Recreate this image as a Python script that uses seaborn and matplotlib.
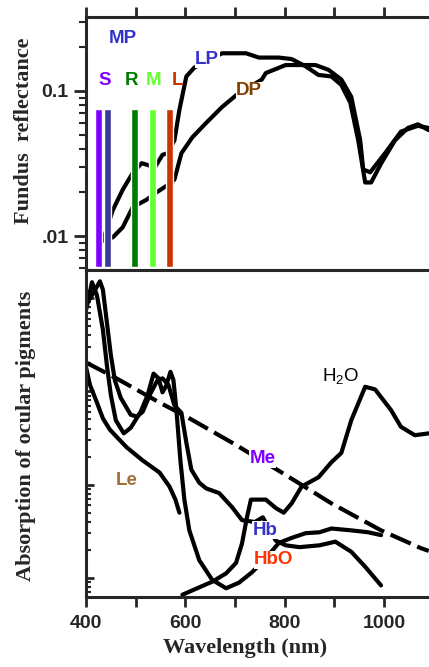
import matplotlib
matplotlib.use('Agg')
import matplotlib.pyplot as plt
from matplotlib.ticker import NullFormatter, FixedLocator
import seaborn as sns

# ---- painel superior: refletância do fundo ----
lp_wl = [434, 454, 474, 494, 512, 524, 538, 554, 564, 578, 588, 602, 618, 628, 674, 722, 748,
         788, 814, 842, 868, 894, 914, 932, 948, 962, 974, 994, 1022, 1048, 1068, 1090]
lp_refl = [0.0093, 0.0151, 0.0209, 0.0272, 0.0318, 0.0309, 0.0295, 0.0363, 0.0372, 0.0457,
           0.0741, 0.126, 0.145, 0.151, 0.182, 0.182, 0.170, 0.170, 0.166, 0.148, 0.129,
           0.126, 0.110, 0.0832, 0.0457, 0.0234, 0.0234, 0.0316, 0.0457, 0.0556, 0.0589, 0.0537]

dp_wl = [434, 454, 474, 494, 522, 542, 564, 578, 592, 614, 642, 674, 702, 754, 762, 802, 842,
         862, 888, 914, 934, 952, 958, 972, 1002, 1034, 1068, 1090]
dp_refl = [0.0093, 0.0098, 0.0115, 0.0158, 0.0178, 0.0200, 0.0224, 0.0245, 0.0372, 0.0479,
           0.0603, 0.0776, 0.0933, 0.120, 0.133, 0.151, 0.151, 0.151, 0.140, 0.120, 0.0912,
           0.0457, 0.0288, 0.0275, 0.0372, 0.0525, 0.0575, 0.0556]

# barras dos filtros (S, MP, R, M, L)
bar_wl = [426, 443, 498, 533, 569]
bar_colors = ['#7f00ff', '#3a3a9a', '#007a00', '#66ff33', '#cc3300']
bar_top = 0.075
bar_bottom = 0.0061

top_labels = ['MP', 'S', 'R', 'M', 'L', 'LP', 'DP']
top_label_wl = [474, 438, 492, 536, 584, 644, 728]
top_label_val = [0.229, 0.119, 0.119, 0.119, 0.119, 0.166, 0.100]
top_label_colors = ['#3333cc', '#7f00ff', '#007a00', '#66ff33', '#cc3300', '#3333cc', '#804000']

# ---- painel inferior: absorção dos pigmentos ----
hbo_wl = [400, 412, 422, 434, 442, 450, 460, 476, 490, 510, 524, 536, 546, 554, 562, 570, 576,
          582, 590, 598, 608, 628, 654, 682, 708, 734, 760, 788, 814, 842, 870, 894, 934, 968, 994]
hbo_abs = [741, 1479, 1072, 457, 191, 91.2, 49.0, 35.5, 40.7, 60.3, 91.2, 155, 138, 97.7, 117,
           162, 132, 63.1, 18.2, 6.92, 3.24, 1.55, 0.955, 0.776, 0.891, 1.15, 1.58, 2.37, 2.69,
           3.02, 3.09, 3.39, 3.24, 3.09, 2.88]

hb_wl = [400, 412, 428, 434, 442, 450, 458, 470, 490, 502, 514, 530, 544, 554, 566, 578, 592,
         602, 612, 628, 642, 668, 694, 714, 740, 756, 782, 802, 830, 870, 902, 934, 962, 994]
hb_abs = [851, 1072, 1514, 1230, 550, 245, 132, 85.1, 56.2, 53.7, 60.3, 95.5, 132, 138, 117,
          70.8, 58.9, 28.2, 14.5, 10.5, 9.12, 8.13, 5.75, 4.17, 3.98, 4.47, 2.51, 2.24, 2.14,
          2.24, 2.45, 1.91, 1.32, 0.832]

h2o_wl = [594, 628, 654, 682, 702, 714, 724, 732, 762, 782, 798, 814, 834, 868, 894, 914, 934,
          962, 982, 1014, 1034, 1062, 1090]
h2o_abs = [0.661, 0.794, 0.912, 1.12, 1.45, 2.34, 4.47, 6.92, 6.92, 5.62, 5.01, 6.31, 9.55,
           12.0, 17.4, 21.9, 49.0, 112, 105, 63.1, 41.7, 33.9, 35.5]

le_wl = [400, 408, 422, 434, 448, 464, 482, 514, 548, 568, 580, 588]
le_abs = [182, 117, 75.9, 51.3, 38.9, 31.6, 25.1, 18.2, 13.5, 9.55, 6.92, 5.01]

me_wl = [400, 458, 548, 602, 694, 794, 894, 994, 1074, 1090]
me_abs = [204, 141, 75.9, 53.7, 28.2, 13.5, 6.31, 3.24, 2.09, 1.95]

bottom_labels = ['Le', 'Me', 'Hb', 'HbO', 'H$_2$O']
bottom_label_wl = [482, 756, 760, 778, 912]
bottom_label_val = [11.0, 18.9, 3.24, 1.56, 145]
bottom_label_colors = ['#a0703a', '#7f00ff', '#3333cc', '#ff3300', 'black']

x_ticks = [400, 500, 600, 700, 800, 900, 1000, 1100]
x_tick_labels = ['400', '', '600', '', '800', '', '1000', '']

sns.set_style('ticks')
plt.rcParams['font.family'] = ['Liberation Sans', 'DejaVu Sans']
plt.rcParams['mathtext.fontset'] = 'custom'
plt.rcParams['mathtext.rm'] = 'Liberation Sans'
plt.rcParams['mathtext.default'] = 'rm'
plt.rcParams['axes.linewidth'] = 2.2

LW = 3.0


def linha(ax, wl, vals, **kw):
    sns.lineplot(x=wl, y=vals, ax=ax, color='black', linewidth=LW,
                 estimator=None, sort=False, solid_joinstyle='round',
                 solid_capstyle='round', **kw)


def painel_superior(fig):
    ax = fig.add_axes([0.2005, 0.5952, 0.8105, 0.3793])
    ax.set_yscale('log')
    linha(ax, lp_wl, lp_refl)
    linha(ax, dp_wl, dp_refl)
    ax.bar(bar_wl, bar_top - bar_bottom, bottom=bar_bottom, width=14,
           color=bar_colors, zorder=3)
    for txt, w, v, c in zip(top_labels, top_label_wl, top_label_val, top_label_colors):
        bb = dict(facecolor='white', edgecolor='none', pad=0.3) if txt in ('LP', 'DP') else None
        ax.text(w, v, txt, color=c, fontsize=13.5, fontweight='bold',
                ha='center', va='center', zorder=4, bbox=bb)
    ax.set_xlim(400, 1100)
    ax.set_ylim(0.00583, 0.3237)
    ax.spines['right'].set_visible(False)
    ax.set_xticks(x_ticks)
    ax.tick_params(axis='x', which='major', top=True, bottom=True, direction='out',
                   length=7, width=2, labelbottom=False, labeltop=False)
    ax.yaxis.set_major_locator(FixedLocator([0.01, 0.1]))
    ax.set_yticklabels(['.01', '0.1'])
    ax.yaxis.set_minor_formatter(NullFormatter())
    ax.tick_params(axis='y', which='major', direction='out', length=9, width=2,
                   labelsize=14, right=False)
    ax.tick_params(axis='y', which='minor', direction='out', length=5, width=1.5, right=False)
    for lab in ax.get_yticklabels():
        lab.set_fontweight('bold')
    ax.set_xlabel('')
    ax.set_ylabel('')
    return ax


def painel_inferior(fig):
    ax = fig.add_axes([0.2005, 0.1049, 0.8105, 0.4903])
    ax.set_yscale('log')
    linha(ax, hbo_wl, hbo_abs)
    linha(ax, hb_wl, hb_abs)
    linha(ax, h2o_wl, h2o_abs)
    linha(ax, le_wl, le_abs)
    linha(ax, me_wl, me_abs, linestyle=(0, (5.3, 1.7)))
    for txt, w, v, c in zip(bottom_labels, bottom_label_wl, bottom_label_val, bottom_label_colors):
        peso = 'normal' if txt.startswith('H$') else 'bold'
        bb = dict(facecolor='white', edgecolor='none', pad=0.3) if txt in ('Hb', 'HbO', 'Me') else None
        ax.text(w, v, txt, color=c, fontsize=13.5, fontweight=peso,
                ha='center', va='center', zorder=4, bbox=bb)
    ax.set_xlim(400, 1100)
    ax.set_ylim(0.625, 2000)
    ax.spines['right'].set_visible(False)
    ax.set_xticks(x_ticks)
    ax.set_xticklabels(x_tick_labels)
    ax.tick_params(axis='x', which='major', direction='out', length=7, width=2,
                   labelsize=14, top=False, pad=6)
    for lab in ax.get_xticklabels():
        lab.set_fontweight('bold')
    ax.yaxis.set_major_locator(FixedLocator([1, 10, 100, 1000]))
    ax.yaxis.set_major_formatter(NullFormatter())
    ax.yaxis.set_minor_formatter(NullFormatter())
    ax.tick_params(axis='y', which='major', direction='in', length=6, width=2, right=False)
    ax.tick_params(axis='y', which='minor', direction='in', length=3.5, width=1.5, right=False)
    ax.set_xlabel('')
    ax.set_ylabel('')
    return ax


def main():
    fig = plt.figure(figsize=(4.29, 6.67), dpi=100)
    painel_superior(fig)
    painel_inferior(fig)
    serif = ['Liberation Serif', 'DejaVu Serif']
    fig.text(24 / 429, 1 - 131 / 667, 'Fundus  reflectance', rotation=90, ha='center',
             va='center', fontsize=16, fontweight='bold', family=serif)
    fig.text(26 / 429, 1 - 436 / 667, 'Absorption of ocular pigments', rotation=90,
             ha='center', va='center', fontsize=16, fontweight='bold', family=serif)
    fig.text(245 / 429, 1 - 648 / 667, 'Wavelength (nm)', ha='center', va='center',
             fontsize=16, fontweight='bold', family=serif)
    fig.savefig('out.png', dpi=100)
    plt.close(fig)


if __name__ == '__main__':
    main()
